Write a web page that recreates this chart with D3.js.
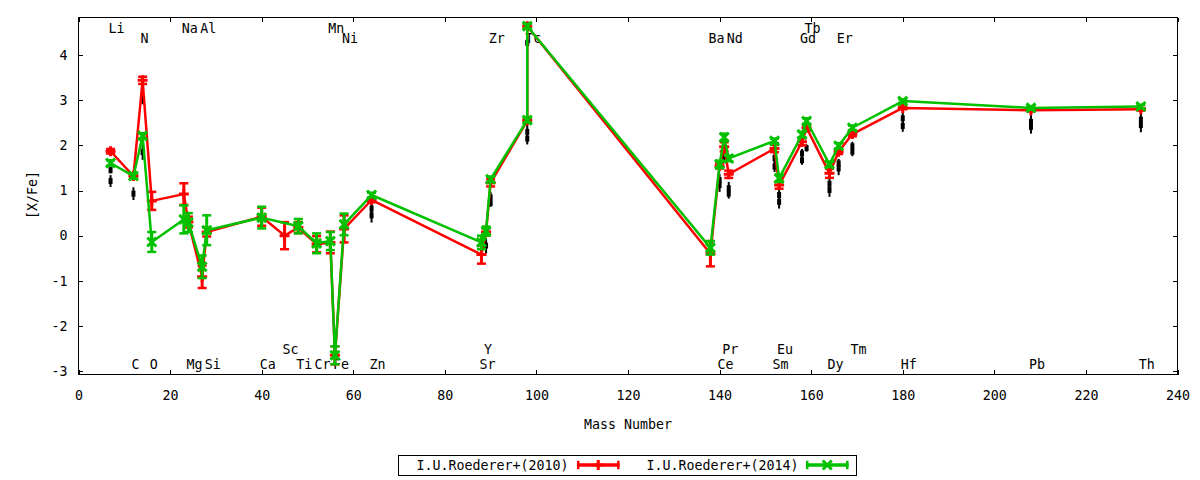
<!DOCTYPE html>
<html><head><meta charset="utf-8">
<script src="https://cdn.jsdelivr.net/npm/d3@7"></script>
<style>
body{margin:0;background:#fff}
svg text{font-family:"DejaVu Sans Mono",monospace;font-size:13.3px;fill:#000}
</style>
</head><body>
<svg id="chart" width="1200" height="480"></svg>
<script>
// ---- data ----
const seriesNames = ["I.U.Roederer+(2010)", "I.U.Roederer+(2014)"];
const seriesColors = ["#ff0000", "#00c000"];

const mass2010 = [7,12,14,16,23,24,27,28,40,45,48,52,55,56,58,64,88,89,90,98,98,138,140,141,142,152,153,158,159,164,166,169,180,208,232];
const values2010 = [1.87,1.32,3.44,0.77,0.92,0.30,-0.91,0.08,0.42,0.00,0.18,-0.19,-0.15,-2.65,0.15,0.79,-0.42,0.08,1.17,2.55,4.64,-0.40,1.55,1.97,1.36,1.93,1.12,2.08,2.39,1.38,1.86,2.25,2.83,2.78,2.80];
const errors2010 = [0.05,0.05,0.08,0.20,0.24,0.12,0.25,0.10,0.20,0.30,0.12,0.18,0.24,0.20,0.30,0.05,0.20,0.08,0.08,0.05,0.05,0.28,0.06,0.10,0.08,0.08,0.08,0.08,0.06,0.10,0.05,0.05,0.03,0.03,0.03];

const mass2014 = [7,12,14,16,23,24,27,28,40,48,52,55,56,58,64,88,89,90,98,98,138,140,141,142,152,153,158,159,164,166,169,180,208,232];
const values2014 = [1.61,1.32,2.21,-0.14,0.36,0.29,-0.69,0.12,0.40,0.21,-0.17,-0.12,-2.65,0.25,0.90,-0.15,0.10,1.25,2.56,4.64,-0.27,1.58,2.18,1.71,2.10,1.27,2.24,2.54,1.58,1.99,2.39,2.98,2.83,2.86];
const errors2014 = [0.06,0.06,0.06,0.22,0.31,0.21,0.25,0.33,0.24,0.16,0.22,0.20,0.20,0.24,0.05,0.15,0.10,0.06,0.05,0.05,0.15,0.08,0.08,0.06,0.05,0.08,0.06,0.06,0.06,0.06,0.05,0.04,0.04,0.04];

// black points (untitled)
const massRef = [7,7,12,14,14,64,64,89,90,90,98,98,98,140,140,141,142,142,152,152,153,153,158,158,159,164,164,166,166,169,169,180,180,208,208,232,232];
const valuesRef = [1.45,1.21,0.93,3.05,1.85,0.45,0.60,-0.22,0.72,0.85,2.15,2.30,4.27,1.23,1.12,1.75,0.93,1.05,1.53,1.72,0.75,0.90,1.67,1.82,1.94,1.01,1.15,1.49,1.60,1.86,1.98,2.43,2.60,2.41,2.52,2.45,2.57];
const errorsRef = [0.07,0.13,0.14,0.14,0.17,0.16,0.14,0.17,0.08,0.12,0.13,0.15,0.10,0.14,0.15,0.12,0.11,0.14,0.12,0.20,0.15,0.15,0.10,0.10,0.08,0.15,0.12,0.15,0.10,0.10,0.10,0.13,0.13,0.15,0.15,0.16,0.14];

// element labels: name, mass number, row (0/1 top, 2/3 bottom)
const labelNames = ["Li","N","Na","Al","Mn","Ni","Zr","Tc","Ba","Nd","Gd","Tb","Er","C","O","Mg","Si","Ca","Sc","Ti","Cr","Fe","Zn","Sr","Y","Ce","Pr","Sm","Eu","Dy","Tm","Hf","Pb","Th"];
const labelMass  = [7,14,23,27,55,58,90,98,138,142,158,159,166,12,16,24,28,40,45,48,52,56,64,88,89,140,141,152,153,164,169,180,208,232];
const labelRow   = [0,1,0,0,0,1,1,1,1,1,1,0,1,3,3,3,3,3,2,3,3,3,3,3,2,3,2,3,2,3,2,3,3,3];
const labelRowY  = [4.60, 4.38, -2.52, -2.84];

const xTicks = [0,20,40,60,80,100,120,140,160,180,200,220,240];
const yTicks = [-3,-2,-1,0,1,2,3,4];
const xDomain = [0, 240];
const yDomain = [-3.08, 4.83];
const xTitle = "Mass Number";
const yTitle = "[X/Fe]";

// ---- layout ----
const W = 1200, H = 480;
const L = 78.5, R = 1177.5, T = 17.6, B = 374.7;
const svg = d3.select("#chart");
const x = d3.scaleLinear().domain(xDomain).range([L, R]);
const y = d3.scaleLinear().domain(yDomain).range([B, T]);

// axes
const tk = 4.5;
const gx = svg.append("g").attr("transform", `translate(0,${B})`)
  .call(d3.axisBottom(x).tickValues(xTicks).tickSize(-tk).tickSizeOuter(0).tickPadding(15.5));
const gxt = svg.append("g").attr("transform", `translate(0,${T})`)
  .call(d3.axisTop(x).tickValues(xTicks).tickSize(-tk).tickSizeOuter(0).tickFormat(""));
const gy = svg.append("g").attr("transform", `translate(${L},0)`)
  .call(d3.axisLeft(y).tickValues(yTicks).tickSize(-tk).tickSizeOuter(0).tickPadding(11));
const gyr = svg.append("g").attr("transform", `translate(${R},0)`)
  .call(d3.axisRight(y).tickValues(yTicks).tickSize(-tk).tickSizeOuter(0).tickFormat(""));
[gx,gxt,gy,gyr].forEach(g=>{
  g.select(".domain").remove();
  g.selectAll("line").attr("stroke","#000").attr("stroke-width",1).attr("shape-rendering","crispEdges");
  g.selectAll("text").attr("font-family",null).attr("font-size",null).style("fill","#000");
});
gx.selectAll("text").text(d=>d);
gy.selectAll("text").text(d=>d<0 ? "-"+Math.abs(d) : d);

svg.append("rect").attr("x",L).attr("y",T).attr("width",R-L).attr("height",B-T)
  .attr("fill","none").attr("stroke","#000").attr("stroke-width",1).attr("shape-rendering","crispEdges");

// titles
svg.append("text").attr("x",(L+R)/2).attr("y",429).attr("text-anchor","middle").text(xTitle);
svg.append("text").attr("transform",`translate(37,195) rotate(-90)`).attr("text-anchor","middle").text(yTitle);

// element labels
svg.append("g").selectAll("text").data(labelNames).join("text")
  .attr("x",(d,i)=>x(labelMass[i]) - 2)
  .attr("y",(d,i)=>y(labelRowY[labelRow[i]]))
  .attr("dy","0.36em")
  .text(d=>d);

const plot = svg.append("g");

// black reference points
const refData = massRef.map((m,i)=>({m, v:valuesRef[i], e:errorsRef[i]}));
const gRef = plot.append("g");
gRef.selectAll("line").data(refData).join("line")
  .attr("x1",d=>x(d.m)).attr("x2",d=>x(d.m))
  .attr("y1",d=>y(d.v-d.e)).attr("y2",d=>y(d.v+d.e))
  .attr("stroke","#000").attr("stroke-width",2);
gRef.selectAll("rect").data(refData).join("rect")
  .attr("x",d=>x(d.m)-2).attr("y",d=>y(d.v)-3).attr("width",4).attr("height",6).attr("fill","#000");

const markerPaths = [
  "M-5,0H5M0,-5V5",
  "M-4.5,-4.5L4.5,4.5M-4.5,4.5L4.5,-4.5"
];

function drawSeries(masses, vals, errs, idx){
  const color = seriesColors[idx];
  const data = masses.map((m,i)=>({m, v:vals[i], e:errs[i]}));
  const g = plot.append("g");
  g.append("path").datum(data)
    .attr("d", d3.line().x(d=>x(d.m)).y(d=>y(d.v)))
    .attr("fill","none").attr("stroke",color).attr("stroke-width",2.5).attr("stroke-linejoin","round");
  const eb = g.append("g").selectAll("g").data(data).join("g");
  eb.append("line").attr("x1",d=>x(d.m)).attr("x2",d=>x(d.m))
    .attr("y1",d=>y(d.v-d.e)).attr("y2",d=>y(d.v+d.e))
    .attr("stroke",color).attr("stroke-width",3);
  eb.append("line").attr("x1",d=>x(d.m)-4.5).attr("x2",d=>x(d.m)+4.5)
    .attr("y1",d=>y(d.v-d.e)).attr("y2",d=>y(d.v-d.e))
    .attr("stroke",color).attr("stroke-width",2.5);
  eb.append("line").attr("x1",d=>x(d.m)-4.5).attr("x2",d=>x(d.m)+4.5)
    .attr("y1",d=>y(d.v+d.e)).attr("y2",d=>y(d.v+d.e))
    .attr("stroke",color).attr("stroke-width",2.5);
  eb.append("path").attr("d",markerPaths[idx])
    .attr("transform",d=>`translate(${x(d.m)},${y(d.v)})`)
    .attr("fill","none").attr("stroke",color).attr("stroke-width",3);
}
drawSeries(mass2010, values2010, errors2010, 0);
drawSeries(mass2014, values2014, errors2014, 1);

// legend
const lg = svg.append("g");
lg.append("rect").attr("x",398.5).attr("y",455.5).attr("width",457.5).attr("height",19.5)
  .attr("fill","#fff").attr("stroke","#000").attr("stroke-width",1).attr("shape-rendering","crispEdges");
const legendItems = [
  {tx:416.5, x0:577, x1:619.5},
  {tx:646.5, x0:806, x1:848.5}
];
legendItems.forEach((it,i)=>{
  const c = seriesColors[i], ly = 465;
  lg.append("text").attr("x",it.tx).attr("y",ly).attr("dy","0.36em").text(seriesNames[i]);
  lg.append("line").attr("x1",it.x0).attr("x2",it.x1).attr("y1",ly).attr("y2",ly).attr("stroke",c).attr("stroke-width",3.5);
  [it.x0+1.2, it.x1-1.2].forEach(cx=>lg.append("line").attr("x1",cx).attr("x2",cx).attr("y1",ly-4.2).attr("y2",ly+4.2).attr("stroke",c).attr("stroke-width",2.5));
  lg.append("path").attr("d",markerPaths[i]).attr("transform",`translate(${(it.x0+it.x1)/2},${ly})`)
    .attr("fill","none").attr("stroke",c).attr("stroke-width",3);
});
</script>
</body></html>
